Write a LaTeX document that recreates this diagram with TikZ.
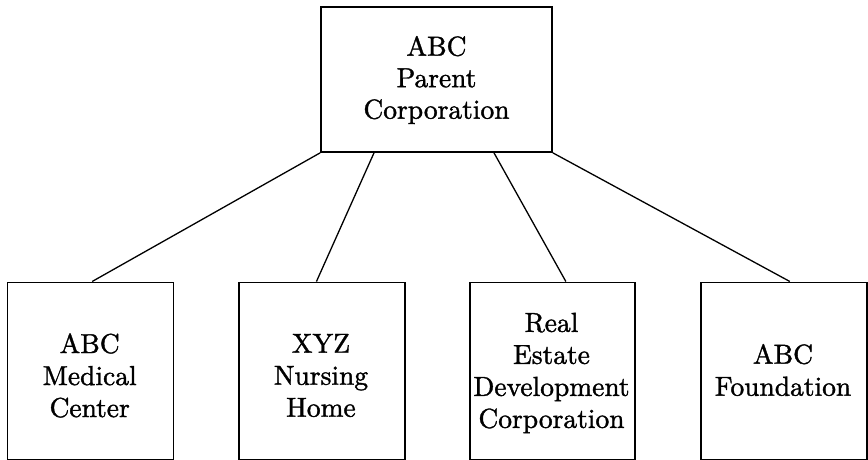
\documentclass[tikz,border=0pt]{standalone}
\usepackage{fontspec}
\setmainfont{lmroman10-regular.otf}[FakeBold=1.3]
\tikzset{
  orgbox/.style={draw=black, line width=1.7pt, inner sep=0pt, fill=white},
  orgtxt/.style={align=center, inner sep=0pt, font=\fontsize{27.5}{32}\selectfont},
  link/.style={draw=black, line width=1.3pt}
}
\begin{document}
\begin{tikzpicture}[x=1pt,y=-1pt]
\useasboundingbox (0,0) rectangle (868,459);
% top box
\node[orgbox, minimum width=231pt, minimum height=145pt] (top) at (436.5,79.5) {};
\node[orgtxt, font=\fontsize{27.5}{31.5}\selectfont] (toptxt) at (436.5,80) {ABC\\Parent\\Corporation};
% bottom boxes
\node[orgbox, minimum width=166pt, minimum height=177pt, anchor=north west] (b1) at (6.6,281.5) {};
\node[orgbox, minimum width=166pt, minimum height=177pt, anchor=north west] (b2) at (238,281.5) {};
\node[orgbox, minimum width=165pt, minimum height=177pt, anchor=north west] (b3) at (469,281.5) {};
\node[orgbox, minimum width=166pt, minimum height=177pt, anchor=north west] (b4) at (700,281.5) {};
\node[orgtxt] (t1) at (89.7,375.5) {ABC\\Medical\\Center};
\node[orgtxt] (t2) at (321,375.5) {XYZ\\Nursing\\Home};
\node[orgtxt] (t3) at (551.5,373) {Real\\Estate\\Development\\Corporation};
\node[orgtxt] (t4) at (783,370) {ABC\\Foundation};
% connectors
\draw[link] (top.south west) -- ([xshift=1.7pt]b1.north);
\draw[link] ([xshift=-62.5pt]top.south) -- ([xshift=-5.4pt]b2.north);
\draw[link] ([xshift=57.5pt]top.south) -- ([xshift=13.5pt]b3.north);
\draw[link] (top.south east) -- ([xshift=6pt]b4.north);
\end{tikzpicture}
\end{document}
